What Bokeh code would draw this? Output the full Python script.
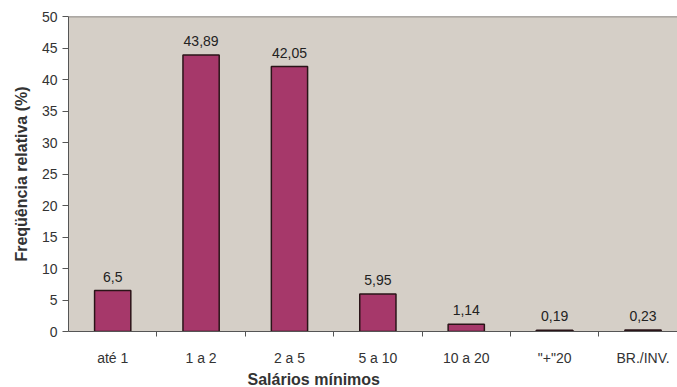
from bokeh.plotting import figure
from bokeh.models import ColumnDataSource, FixedTicker, LabelSet, Range1d, Span, Title
from bokeh.core.properties import value
from bokeh.embed import file_html
from bokeh.resources import INLINE

categories = ["até 1", "1 a 2", "2 a 5", "5 a 10", "10 a 20", "\"+\"20", "BR./INV."]
values = [6.5, 43.89, 42.05, 5.95, 1.14, 0.19, 0.23]
value_labels = ["6,5", "43,89", "42,05", "5,95", "1,14", "0,19", "0,23"]
y_ticks = [0, 5, 10, 15, 20, 25, 30, 35, 40, 45, 50]
x_title = "Salários mínimos"
y_title = "Freqüência relativa (%)"

xs = list(range(len(categories)))
src = ColumnDataSource(dict(x=xs, top=values, lab=value_labels))

p = figure(width=677, height=387, output_backend="svg", toolbar_location=None,
           x_range=Range1d(-0.5, 6.39), y_range=Range1d(0, 50),
           min_border_left=68, min_border_top=16, min_border_right=0, min_border_bottom=0)

p.border_fill_color = "white"
p.outline_line_color = None
p.background_fill_color = "#d5cfc7"
p.grid.visible = False

p.add_layout(Span(location=50, dimension="width", line_color="#6e6a66", line_width=1.5))

p.vbar(x="x", top="top", width=0.41, bottom=0, source=src,
       fill_color="#a6386a", line_color="#2a1418", line_width=1.5)

labels = LabelSet(x="x", y="top", text="lab", source=src, text_align="center",
                  text_baseline="bottom", y_offset=9, text_font=value("Liberation Sans"),
                  text_font_size="14px", text_color="#222222")
p.add_layout(labels)

p.xaxis.ticker = FixedTicker(ticks=xs, minor_ticks=[i + 0.5 for i in xs])
p.xaxis.major_label_overrides = {i: c for i, c in zip(xs, categories)}
p.xaxis.major_tick_out = 0
p.xaxis.major_tick_in = 0
p.xaxis.minor_tick_out = 5
p.xaxis.minor_tick_in = 0

# x-axis title placed below the axis (off-centre, as in the original scan)
p.add_layout(Title(text=x_title, align="left", offset=179, standoff=0,
                   text_font="Liberation Sans", text_font_size="16px",
                   text_font_style="bold", text_color="#333333"), "below")

p.yaxis.ticker = FixedTicker(ticks=y_ticks)
p.yaxis.major_tick_out = 6
p.yaxis.major_tick_in = 0
p.yaxis.minor_tick_out = 0
p.yaxis.axis_label = y_title

for ax in (p.xaxis, p.yaxis):
    ax.axis_line_color = "#555555"
    ax.major_tick_line_color = "#555555"
    ax.minor_tick_line_color = "#555555"
    ax.major_label_text_font = "Liberation Sans"
    ax.major_label_text_font_size = "14px"
    ax.major_label_text_color = "#333333"
    ax.axis_label_text_font = "Liberation Sans"
    ax.axis_label_text_font_size = "16px"
    ax.axis_label_text_font_style = "bold"
    ax.axis_label_text_color = "#333333"

p.xaxis.major_label_standoff = 13
p.yaxis.major_label_standoff = 5
p.yaxis.axis_label_standoff = 9

open("out.html", "w").write(file_html(p, INLINE))
